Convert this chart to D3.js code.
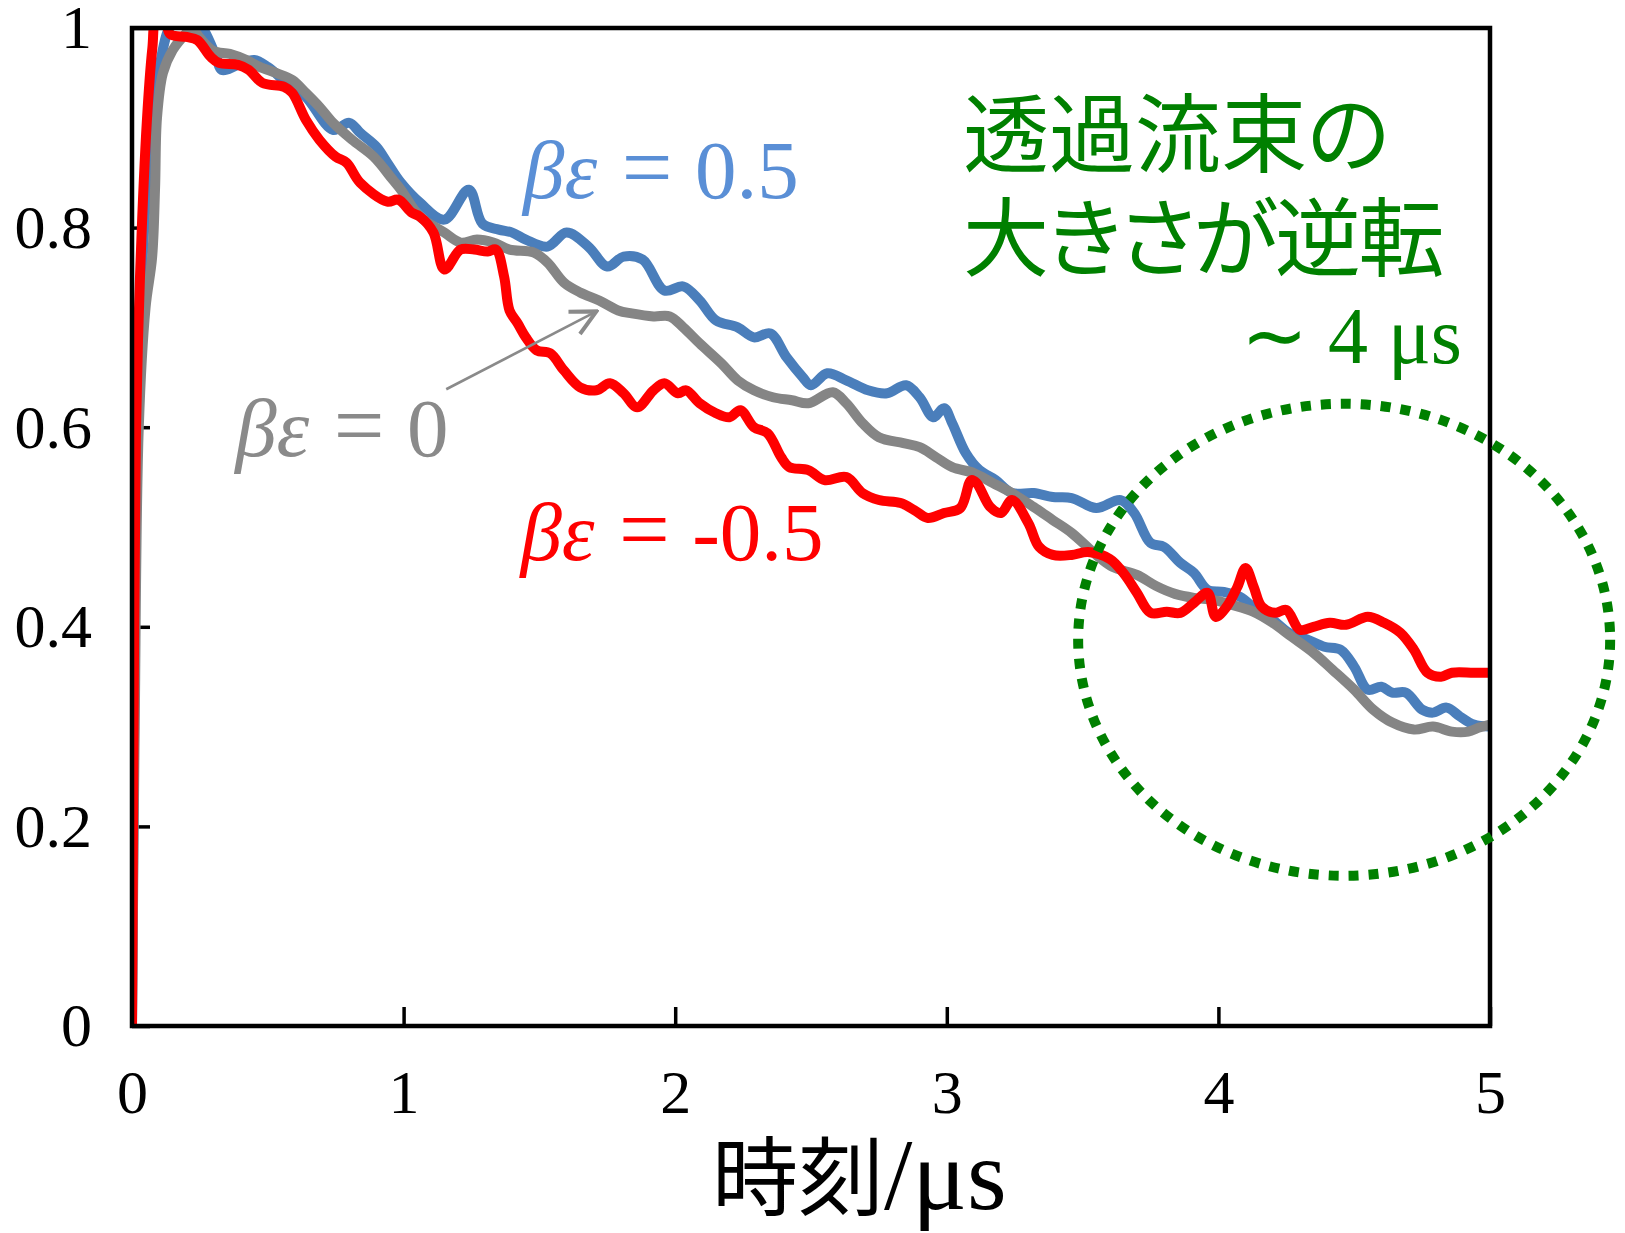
<!DOCTYPE html>
<html>
<head>
<meta charset="utf-8">
<script src="https://cdn.jsdelivr.net/npm/d3@7"></script>
<style>
  body { margin: 0; background: #fff; }
  svg { display: block; }
</style>
</head>
<body>
<svg id="chart" width="1625" height="1233"></svg>
<script>
// Normalized permeation flux vs. time (µs) for three interaction strengths βε

// βε = 0.5
const timePos = [0, 0.008, 0.02, 0.045, 0.07, 0.1, 0.15, 0.22, 0.26, 0.31, 0.33, 0.39, 0.45, 0.5, 0.57, 0.64, 0.74, 0.8, 0.84, 0.9, 0.94, 0.99,
  1.06, 1.15, 1.24, 1.29, 1.35, 1.4, 1.45, 1.53, 1.6, 1.68, 1.75, 1.81, 1.88, 1.96, 2.03, 2.09, 2.15, 2.23, 2.29, 2.35, 2.41, 2.47,
  2.5, 2.56, 2.63, 2.71, 2.78, 2.85, 2.9, 2.95, 2.99, 3.02, 3.07, 3.12, 3.18, 3.24, 3.32, 3.39, 3.46, 3.55, 3.64, 3.69, 3.75, 3.8,
  3.86, 3.91, 3.96, 4.02, 4.08, 4.14, 4.2, 4.26, 4.33, 4.39, 4.45, 4.5, 4.55, 4.6, 4.64, 4.69, 4.75, 4.79, 4.84, 4.89, 4.94, 5.0];
const fluxPos = [0, 0.3, 0.62, 0.8, 0.9, 0.96, 1.005, 1.01, 1.0, 0.971, 0.958, 0.963, 0.968, 0.961, 0.945, 0.931, 0.898, 0.905, 0.895, 0.881, 0.865, 0.845,
  0.825, 0.808, 0.838, 0.804, 0.798, 0.795, 0.788, 0.781, 0.795, 0.781, 0.761, 0.771, 0.768, 0.737, 0.741, 0.727, 0.707, 0.7, 0.69, 0.694, 0.67, 0.65,
  0.642, 0.654, 0.647, 0.637, 0.634, 0.642, 0.63, 0.61, 0.619, 0.604, 0.574, 0.557, 0.547, 0.534, 0.534, 0.53, 0.529, 0.519, 0.527, 0.514, 0.484, 0.48,
  0.464, 0.454, 0.437, 0.435, 0.43, 0.417, 0.407, 0.394, 0.387, 0.38, 0.377, 0.36, 0.337, 0.34, 0.334, 0.334, 0.317, 0.314, 0.319, 0.31, 0.302, 0.3];

// βε = 0
const timeZero = [0, 0.01, 0.025, 0.05, 0.074, 0.085, 0.092, 0.114, 0.15, 0.2, 0.22, 0.25, 0.3, 0.36, 0.42, 0.47, 0.53, 0.59, 0.64, 0.69, 0.74, 0.81,
  0.89, 0.96, 0.99, 1.06, 1.15, 1.21, 1.27, 1.33, 1.39, 1.48, 1.53, 1.59, 1.65, 1.72, 1.79, 1.84, 1.92, 1.98, 2.03, 2.09, 2.17, 2.23, 2.29, 2.36,
  2.43, 2.49, 2.58, 2.63, 2.69, 2.75, 2.84, 2.9, 2.96, 3.02, 3.1, 3.17, 3.24, 3.32, 3.39, 3.46, 3.55, 3.61, 3.7, 3.77, 3.84, 3.91, 3.98, 4.05,
  4.13, 4.2, 4.27, 4.35, 4.42, 4.5, 4.57, 4.64, 4.72, 4.79, 4.86, 4.92, 4.96, 5.0];
const fluxZero = [0, 0.3, 0.6, 0.72, 0.77, 0.84, 0.91, 0.955, 0.978, 0.995, 1.0, 0.99, 0.977, 0.974, 0.968, 0.961, 0.955, 0.948, 0.935, 0.921, 0.905, 0.888,
  0.871, 0.848, 0.838, 0.811, 0.795, 0.785, 0.788, 0.785, 0.778, 0.775, 0.765, 0.745, 0.735, 0.727, 0.717, 0.714, 0.711, 0.711, 0.7, 0.684, 0.664, 0.647, 0.637, 0.63,
  0.627, 0.624, 0.635, 0.624, 0.604, 0.59, 0.584, 0.58, 0.57, 0.56, 0.554, 0.544, 0.534, 0.52, 0.507, 0.494, 0.472, 0.46, 0.452, 0.441, 0.433, 0.429, 0.427, 0.422,
  0.415, 0.404, 0.39, 0.374, 0.357, 0.337, 0.317, 0.304, 0.297, 0.3, 0.295, 0.295, 0.299, 0.302];

// βε = -0.5
const timeNeg = [0, 0.008, 0.015, 0.029, 0.055, 0.075, 0.09, 0.12, 0.14, 0.2, 0.24, 0.29, 0.32, 0.39, 0.43, 0.48, 0.56, 0.59, 0.64, 0.69, 0.75, 0.79,
  0.84, 0.94, 0.98, 1.03, 1.06, 1.11, 1.15, 1.21, 1.26, 1.31, 1.34, 1.37, 1.39, 1.42, 1.45, 1.49, 1.54, 1.59, 1.65, 1.71, 1.76, 1.81, 1.86, 1.92,
  1.96, 2.01, 2.04, 2.09, 2.15, 2.2, 2.24, 2.29, 2.34, 2.39, 2.42, 2.49, 2.55, 2.63, 2.69, 2.75, 2.83, 2.88, 2.93, 2.99, 3.05, 3.09, 3.11, 3.16,
  3.2, 3.24, 3.3, 3.34, 3.39, 3.46, 3.52, 3.6, 3.65, 3.7, 3.75, 3.81, 3.86, 3.91, 3.96, 3.99, 4.03, 4.07, 4.1, 4.13, 4.16, 4.21, 4.25, 4.3,
  4.35, 4.41, 4.47, 4.55, 4.61, 4.67, 4.72, 4.77, 4.82, 4.86, 4.94, 5.0];
const fluxNeg = [0, 0.4, 0.6, 0.747, 0.908, 0.98, 1.01, 1.01, 0.994, 0.991, 0.988, 0.971, 0.965, 0.963, 0.958, 0.945, 0.941, 0.935, 0.908, 0.888, 0.871, 0.865,
  0.845, 0.826, 0.828, 0.815, 0.811, 0.795, 0.758, 0.778, 0.778, 0.776, 0.778, 0.751, 0.717, 0.704, 0.69, 0.677, 0.674, 0.657, 0.64, 0.637, 0.644, 0.634, 0.62, 0.637,
  0.644, 0.634, 0.637, 0.624, 0.614, 0.61, 0.617, 0.6, 0.594, 0.57, 0.56, 0.557, 0.547, 0.55, 0.534, 0.527, 0.524, 0.517, 0.509, 0.514, 0.519, 0.547, 0.544, 0.52,
  0.514, 0.527, 0.504, 0.48, 0.472, 0.472, 0.475, 0.468, 0.454, 0.434, 0.414, 0.415, 0.414, 0.424, 0.434, 0.41, 0.42, 0.44, 0.459, 0.44, 0.42, 0.414, 0.417, 0.397,
  0.4, 0.404, 0.402, 0.41, 0.404, 0.394, 0.377, 0.354, 0.35, 0.354, 0.354, 0.354];

const seriesColors = ["#4a7ebb", "#858585", "#ff0000"];
const labelColors = ["#5a8fd6", "#8a8a8a", "#ff0000"];
const labelValues = ["0.5", "0", "-0.5"];

const xTicks = [0, 1, 2, 3, 4, 5];
const xTickLabels = ["0", "1", "2", "3", "4", "5"];
const yTicks = [0, 0.2, 0.4, 0.6, 0.8, 1];
const yTickLabels = ["0", "0.2", "0.4", "0.6", "0.8", "1"];

const svg = d3.select("#chart");
const serif = "'Liberation Serif', 'Times New Roman', serif";
const cjk = "'Noto Sans CJK JP', 'Noto Sans', sans-serif";

const x = d3.scaleLinear().domain([0, 5]).range([132, 1490]);
const y = d3.scaleLinear().domain([0, 1]).range([1026, 28]);

// inward ticks, drawn first so the curves pass over them
svg.append("g")
  .attr("transform", `translate(0,${y(0)})`)
  .call(d3.axisBottom(x).tickValues(xTicks).tickFormat((d, i) => xTickLabels[i])
    .tickSizeInner(-19).tickSizeOuter(0).tickPadding(43))
  .call(g => g.select(".domain").remove())
  .call(g => g.selectAll("line").attr("stroke", "#000").attr("stroke-width", 3.5))
  .attr("font-family", serif).attr("font-size", 62)
  .call(g => g.selectAll("text").attr("fill", "#000"));

svg.append("g")
  .attr("transform", `translate(${x(0)},0)`)
  .call(d3.axisLeft(y).tickValues(yTicks).tickFormat((d, i) => yTickLabels[i])
    .tickSizeInner(-18).tickSizeOuter(0).tickPadding(40))
  .call(g => g.select(".domain").remove())
  .call(g => g.selectAll("line").attr("stroke", "#000").attr("stroke-width", 3.5))
  .attr("font-family", serif).attr("font-size", 62)
  .call(g => g.selectAll("text").attr("fill", "#000"));

// curves, clipped to the plotting frame
svg.append("clipPath").attr("id", "plot-clip")
  .append("rect")
  .attr("x", x(0)).attr("y", y(1))
  .attr("width", x(5) - x(0)).attr("height", y(0) - y(1));

const zip = (ts, vs) => ts.map((t, i) => ({ t, v: vs[i] }));
const series = [zip(timePos, fluxPos), zip(timeZero, fluxZero), zip(timeNeg, fluxNeg)];

const line = d3.line()
  .x(d => x(d.t))
  .y(d => y(d.v))
  .curve(d3.curveCatmullRom.alpha(0.5));

svg.append("g").attr("clip-path", "url(#plot-clip)")
  .selectAll("path")
  .data(series)
  .join("path")
  .attr("d", line)
  .attr("fill", "none")
  .attr("stroke", (d, i) => seriesColors[i])
  .attr("stroke-width", 10)
  .attr("stroke-linejoin", "round")
  .attr("stroke-linecap", "round");

// frame
svg.append("rect")
  .attr("x", x(0)).attr("y", y(1))
  .attr("width", x(5) - x(0)).attr("height", y(0) - y(1))
  .attr("fill", "none").attr("stroke", "#000").attr("stroke-width", 4.5);

// series labels: italic βε, a wide equals sign, then the value
const labelPos = [[1.44, 0.83], [0.38, 0.571], [1.43, 0.467]];
labelPos.forEach(([t, v], i) => {
  const txt = svg.append("text")
    .attr("x", x(t)).attr("y", y(v))
    .attr("fill", labelColors[i])
    .attr("font-family", serif)
    .attr("font-size", 83);
  txt.append("tspan").attr("font-style", "italic").text("βε");
  txt.append("tspan").attr("font-size", 90).attr("dx", 2).text(" = ");
  txt.append("tspan").text(labelValues[i]);
});

// arrow pointing from the βε = 0 label to its curve
svg.append("defs").append("marker")
  .attr("id", "open-arrow")
  .attr("viewBox", "0 0 12 12")
  .attr("refX", 11).attr("refY", 6)
  .attr("markerWidth", 30).attr("markerHeight", 30)
  .attr("markerUnits", "userSpaceOnUse")
  .attr("orient", "auto")
  .append("path")
  .attr("d", "M1,1 L11,6 L1,11")
  .attr("fill", "none").attr("stroke", "#8a8a8a").attr("stroke-width", 1.6);

svg.append("line")
  .attr("x1", x(1.157)).attr("y1", y(0.638))
  .attr("x2", x(1.71)).attr("y2", y(0.716))
  .attr("stroke", "#8a8a8a").attr("stroke-width", 2.6)
  .attr("marker-end", "url(#open-arrow)");

// annotation: flux ordering reverses around 4 µs
const green = "#008000";
const note = svg.append("text")
  .attr("fill", green).attr("font-family", cjk).attr("font-size", 86)
  .style("font-feature-settings", "'palt'");
note.append("tspan").attr("x", 963).attr("y", 166).text("透過流束の");
note.append("tspan").attr("x", 963).attr("y", 270).attr("letter-spacing", -2.5).text("大きさが逆転");

svg.append("text")
  .attr("x", 1462).attr("y", 363)
  .attr("text-anchor", "end")
  .attr("fill", green).attr("font-family", serif).attr("font-size", 80)
  .text("∼ 4 μs");

svg.append("ellipse")
  .attr("cx", x(4.463)).attr("cy", y(0.387))
  .attr("rx", 266).attr("ry", 236)
  .attr("fill", "none")
  .attr("stroke", green).attr("stroke-width", 10)
  .attr("stroke-dasharray", "10 10");

// x-axis title
const xTitle = svg.append("text")
  .attr("x", 712).attr("y", 1209)
  .attr("fill", "#000");
xTitle.append("tspan").attr("font-family", cjk).attr("font-size", 86).text("時刻");
xTitle.append("tspan").attr("font-family", serif).attr("font-size", 102).text("/μs");
</script>
</body>
</html>
